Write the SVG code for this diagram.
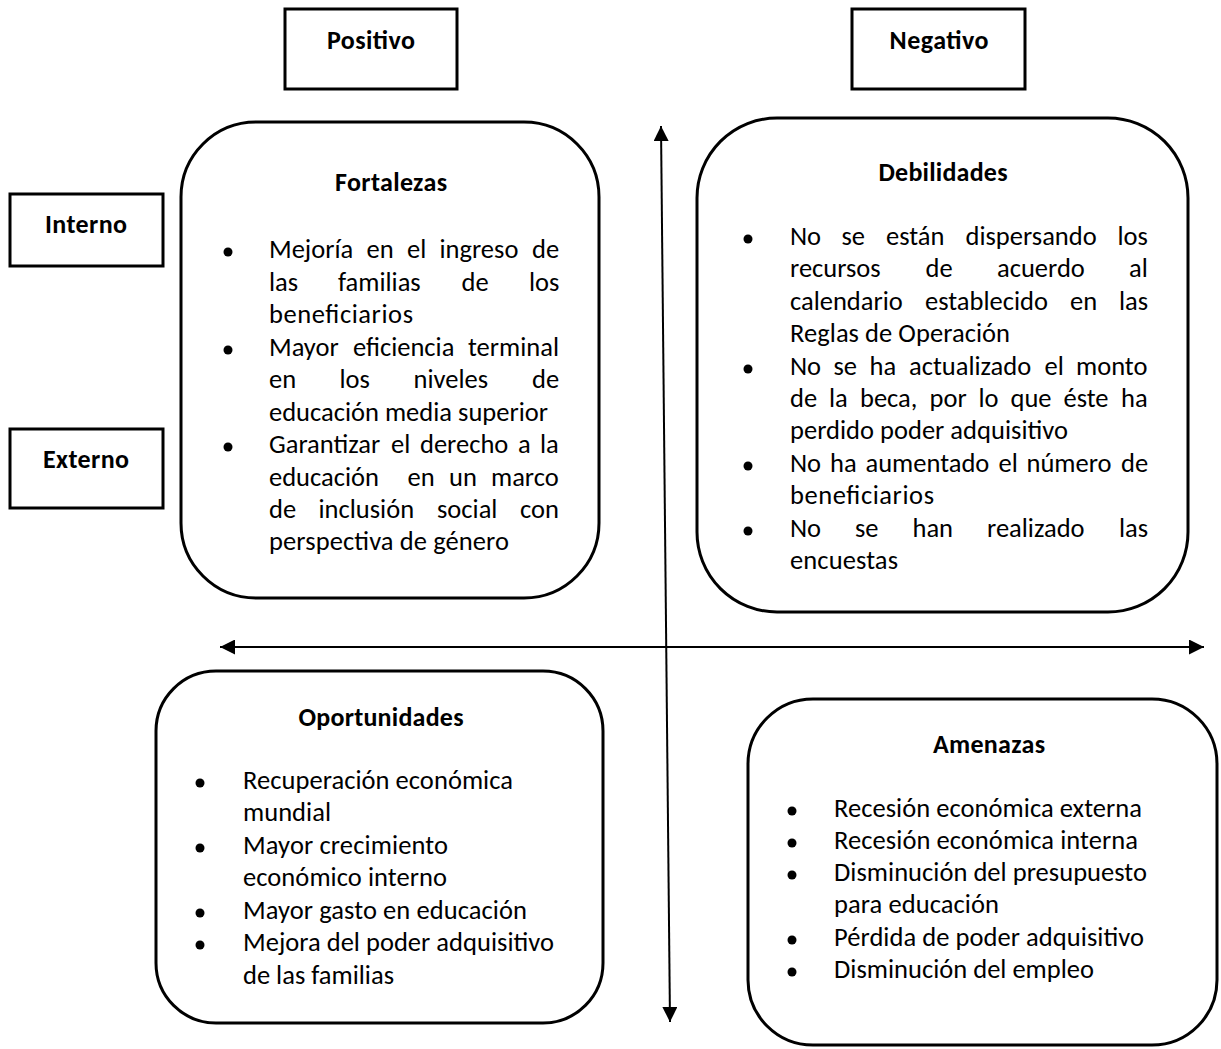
<svg xmlns="http://www.w3.org/2000/svg" width="1221" height="1049" viewBox="0 0 1221 1049">
<style>
.box{fill:#fff;stroke:#000;stroke-width:3}
.t{font-family:Carlito,Calibri,Lato,"Liberation Sans",sans-serif;font-size:26.5px;fill:#000}
.h{font-family:Carlito,Calibri,Lato,"Liberation Sans",sans-serif;font-size:26px;font-weight:700;fill:#000;text-anchor:middle}
.ax{stroke:#000;stroke-width:2;fill:none}
.b{fill:#000}
</style>
<defs>
<marker id="ah" viewBox="0 0 10 10" refX="10" refY="5" markerWidth="15" markerHeight="15" markerUnits="userSpaceOnUse" orient="auto-start-reverse"><path d="M0,0 L10,5 L0,10 z" fill="#000"/></marker>
</defs>
<rect width="1221" height="1049" fill="#fff"/>

<g id="connectors">
<line class="ax" x1="661" y1="126" x2="670" y2="1022" marker-start="url(#ah)" marker-end="url(#ah)"/>
<line class="ax" x1="220" y1="647" x2="1204" y2="647" marker-start="url(#ah)" marker-end="url(#ah)"/>
</g>

<g id="positivo">
<rect class="box" x="285" y="9" width="172" height="80"/>
<text class="h" x="371" y="49" textLength="88">Positivo</text>
</g>
<g id="negativo">
<rect class="box" x="852" y="9" width="173" height="80"/>
<text class="h" x="939" y="49" textLength="99">Negativo</text>
</g>
<g id="interno">
<rect class="box" x="10" y="194" width="153" height="72"/>
<text class="h" x="86" y="233" textLength="82">Interno</text>
</g>
<g id="externo">
<rect class="box" x="10" y="429" width="153" height="79"/>
<text class="h" x="86" y="468" textLength="86">Externo</text>
</g>

<g id="fortalezas">
<rect class="box" x="181" y="122" width="418" height="476" rx="75" ry="75"/>
<text class="h" x="391" y="191" textLength="112">Fortalezas</text>
<circle class="b" cx="228" cy="252" r="4.5"/>
<circle class="b" cx="228" cy="350" r="4.5"/>
<circle class="b" cx="228" cy="447" r="4.5"/>
<text class="t" y="258"><tspan x="269">Mejoría</tspan><tspan x="366.5">en</tspan><tspan x="407">el</tspan><tspan x="439.5">ingreso</tspan><tspan x="532">de</tspan></text>
<text class="t" y="291"><tspan x="269">las</tspan><tspan x="338">familias</tspan><tspan x="461.5">de</tspan><tspan x="529">los</tspan></text>
<text class="t" x="269" y="323" textLength="144">beneficiarios</text>
<text class="t" y="356"><tspan x="269">Mayor</tspan><tspan x="353">eficiencia</tspan><tspan x="468">terminal</tspan></text>
<text class="t" y="388"><tspan x="269">en</tspan><tspan x="339.5">los</tspan><tspan x="413.5">niveles</tspan><tspan x="532">de</tspan></text>
<text class="t" x="269" y="421" textLength="279">educación media superior</text>
<text class="t" y="453"><tspan x="269">Garantizar</tspan><tspan x="391">el</tspan><tspan x="420">derecho</tspan><tspan x="518">a</tspan><tspan x="540">la</tspan></text>
<text class="t" y="486"><tspan x="269">educación</tspan><tspan x="407.5">en</tspan><tspan x="449">un</tspan><tspan x="491">marco</tspan></text>
<text class="t" y="518"><tspan x="269">de</tspan><tspan x="318.5">inclusión</tspan><tspan x="437">social</tspan><tspan x="520">con</tspan></text>
<text class="t" x="269" y="550" textLength="240">perspectiva de género</text>
</g>

<g id="debilidades">
<rect class="box" x="697" y="118" width="491" height="494" rx="80" ry="80"/>
<text class="h" x="943" y="181" textLength="129">Debilidades</text>
<circle class="b" cx="748" cy="239" r="4.5"/>
<circle class="b" cx="748" cy="369" r="4.5"/>
<circle class="b" cx="748" cy="466" r="4.5"/>
<circle class="b" cx="748" cy="531" r="4.5"/>
<text class="t" y="245"><tspan x="790">No</tspan><tspan x="841.5">se</tspan><tspan x="886">están</tspan><tspan x="965.5">dispersando</tspan><tspan x="1117.5">los</tspan></text>
<text class="t" y="277"><tspan x="790">recursos</tspan><tspan x="925.5">de</tspan><tspan x="997">acuerdo</tspan><tspan x="1129">al</tspan></text>
<text class="t" y="310"><tspan x="790">calendario</tspan><tspan x="925">establecido</tspan><tspan x="1070">en</tspan><tspan x="1119">las</tspan></text>
<text class="t" x="790" y="342" textLength="220">Reglas de Operación</text>
<text class="t" y="375"><tspan x="790">No</tspan><tspan x="833.5">se</tspan><tspan x="869.5">ha</tspan><tspan x="909">actualizado</tspan><tspan x="1044.5">el</tspan><tspan x="1076">monto</tspan></text>
<text class="t" y="407"><tspan x="790">de</tspan><tspan x="829">la</tspan><tspan x="860">beca,</tspan><tspan x="929.5">por</tspan><tspan x="978.5">lo</tspan><tspan x="1010.5">que</tspan><tspan x="1063.5">éste</tspan><tspan x="1121">ha</tspan></text>
<text class="t" x="790" y="439" textLength="278">perdido poder adquisitivo</text>
<text class="t" y="472"><tspan x="790">No</tspan><tspan x="830">ha</tspan><tspan x="865.5">aumentado</tspan><tspan x="998.5">el</tspan><tspan x="1026.5">número</tspan><tspan x="1121">de</tspan></text>
<text class="t" x="790" y="504" textLength="144">beneficiarios</text>
<text class="t" y="537"><tspan x="790">No</tspan><tspan x="855">se</tspan><tspan x="912.5">han</tspan><tspan x="987">realizado</tspan><tspan x="1119">las</tspan></text>
<text class="t" x="790" y="569" textLength="108">encuestas</text>
</g>

<g id="oportunidades">
<rect class="box" x="156" y="671" width="447" height="352" rx="60" ry="60"/>
<text class="h" x="381" y="726" textLength="165">Oportunidades</text>
<circle class="b" cx="200" cy="783" r="4.5"/>
<circle class="b" cx="200" cy="848" r="4.5"/>
<circle class="b" cx="200" cy="913" r="4.5"/>
<circle class="b" cx="200" cy="945" r="4.5"/>
<text class="t" x="243" y="789" textLength="270">Recuperación económica</text>
<text class="t" x="243" y="821" textLength="88">mundial</text>
<text class="t" x="243" y="854" textLength="205">Mayor crecimiento</text>
<text class="t" x="243" y="886" textLength="204">económico interno</text>
<text class="t" x="243" y="919" textLength="284">Mayor gasto en educación</text>
<text class="t" x="243" y="951" textLength="311">Mejora del poder adquisitivo</text>
<text class="t" x="243" y="984" textLength="151">de las familias</text>
</g>

<g id="amenazas">
<rect class="box" x="748" y="699" width="469" height="346" rx="65" ry="65"/>
<text class="h" x="989" y="753" textLength="112">Amenazas</text>
<circle class="b" cx="792" cy="811" r="4.5"/>
<circle class="b" cx="792" cy="843" r="4.5"/>
<circle class="b" cx="792" cy="875" r="4.5"/>
<circle class="b" cx="792" cy="940" r="4.5"/>
<circle class="b" cx="792" cy="972" r="4.5"/>
<text class="t" x="834" y="817" textLength="308">Recesión económica externa</text>
<text class="t" x="834" y="849" textLength="304">Recesión económica interna</text>
<text class="t" x="834" y="881" textLength="313">Disminución del presupuesto</text>
<text class="t" x="834" y="913" textLength="165">para educación</text>
<text class="t" x="834" y="946" textLength="310">Pérdida de poder adquisitivo</text>
<text class="t" x="834" y="978" textLength="260">Disminución del empleo</text>
</g>
</svg>
